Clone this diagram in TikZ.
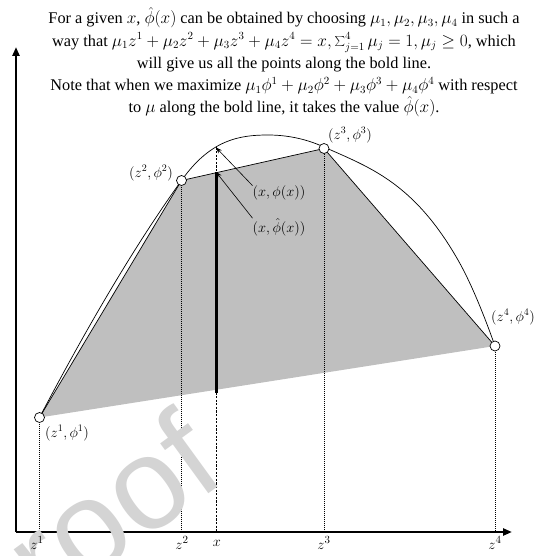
\documentclass[tikz,border=0pt]{standalone}
\usepackage{fontspec}
\setmainfont{Liberation Serif}
\setsansfont{Liberation Sans}
\usetikzlibrary{arrows.meta}
\begin{document}
\begin{tikzpicture}[x=1pt,y=-1pt,
  ptc/.style={circle,draw,fill=white,inner sep=0pt,minimum size=10pt,line width=0.7pt},
  lab/.style={font=\fontsize{14.5}{16}\selectfont,inner sep=0pt},
  axlab/.style={font=\fontsize{15.5}{16}\selectfont,inner sep=0pt},
  guide/.style={line width=0.6pt,dash pattern=on 1pt off 1pt},
  xguide/.style={line width=0.6pt,dash pattern=on 2.2pt off 1.4pt},
  axis/.style={line width=2.4pt,-{Triangle[length=9pt,width=7pt]}},
  pointer/.style={line width=0.6pt,-{Stealth[length=6pt,width=4.5pt]}},
  edge/.style={line width=0.7pt}
]
\useasboundingbox (0,0) rectangle (544,556);

% text
\node[anchor=north,align=center,inner sep=0pt,font=\fontsize{16.3}{22.3}\selectfont] (txt) at (284,7)
{For a given $x$, $\hat{\phi}(x)$ can be obtained by choosing $\mu_1,\mu_2,\mu_3,\mu_4$ in such a\\
way that $\mu_1z^1+\mu_2z^2+\mu_3z^3+\mu_4z^4=x,\sum_{j=1}^4\mu_j=1,\mu_j\geq 0$, which\\
will give us all the points along the bold line.\\
Note that when we maximize $\mu_1\phi^1+\mu_2\phi^2+\mu_3\phi^3+\mu_4\phi^4$ with respect\\
to $\mu$ along the bold line, it takes the value $\hat{\phi}(x)$.};

% key points
\coordinate (P1) at (39.5,417.5);
\coordinate (P2) at (181.5,180.5);
\coordinate (P3) at (324,148.5);
\coordinate (P4) at (495,346);
\coordinate (O) at (16,532);
\coordinate (Ytip) at (16,47);
\coordinate (Xtip) at (512,532);
\coordinate (F1) at (39.5,532);
\coordinate (F2) at (181.5,532);
\coordinate (Fx) at (216,532);
\coordinate (F3) at (324,532);
\coordinate (F4) at (495,532);
\coordinate (Cx) at (216,147.5);
\coordinate (Hx) at (216,172);
\coordinate (Lx) at (216,392.5);
\coordinate (Pk) at (268,135);
\coordinate (Q) at (458,260);

% hull
\fill[black!25] (P1)--(P2)--(P3)--(P4)--cycle;
\draw[edge] (P1)--(P2)--(P3)--(P4);

% guides
\draw[guide] (P1)--(F1);
\draw[guide] (P2)--(F2);
\draw[guide] (P3)--(F3);
\draw[guide] (P4)--(F4);
\draw[xguide] (Cx)--(Fx);

% curve
\draw[edge] (P1) .. controls (86.8,327.6) and (134.2,246.2) .. (P2)
  .. controls (210.3,139.7) and (239.2,135) .. (Pk)
  .. controls (286.7,135) and (305.3,138.6) .. (324,147)
  .. controls (368.7,167.1) and (413.3,181.8) .. (Q)
  .. controls (470.3,281.6) and (482.7,311.5) .. (P4);

% bold line
\draw[line width=3pt] (Hx)--(Lx);

% axes
\draw[axis] (O)--(Ytip);
\draw[axis] (O)--(Xtip);

% points
\node[ptc] (n1) at (P1) {};
\node[ptc] (n2) at (P2) {};
\node[ptc] (n3) at (P3) {};
\node[ptc] (n4) at (P4) {};

% labels
\node[lab] (l1) at (67,433) {$(z^1,\phi^1)$};
\node[lab] (l2) at (151,173) {$(z^2,\phi^2)$};
\node[lab] (l3) at (350,135) {$(z^3,\phi^3)$};
\node[lab] (l4) at (513,317) {$(z^4,\phi^4)$};
\node[lab] (lphi) at (279,193) {$(x,\phi(x))$};
\node[lab] (lhat) at (279,227) {$(x,\hat{\phi}(x))$};

\draw[pointer] (lphi.north west) -- (Cx);
\draw[pointer] (lhat.north west) -- (Hx);

% watermark
\node[rotate=36,text=black!17,font=\sffamily\fontsize{130}{130}\selectfont,anchor=base east,inner sep=0pt] (wm) at (229,479) {Proof};

% axis labels
\node[axlab] (a1) at (37,543) {$z^1$};
\node[axlab] (a2) at (182,543) {$z^2$};
\node[axlab] (ax) at (217,543) {$x$};
\node[axlab] (a3) at (324,543) {$z^3$};
\node[axlab] (a4) at (495,543) {$z^4$};
\end{tikzpicture}
\end{document}
